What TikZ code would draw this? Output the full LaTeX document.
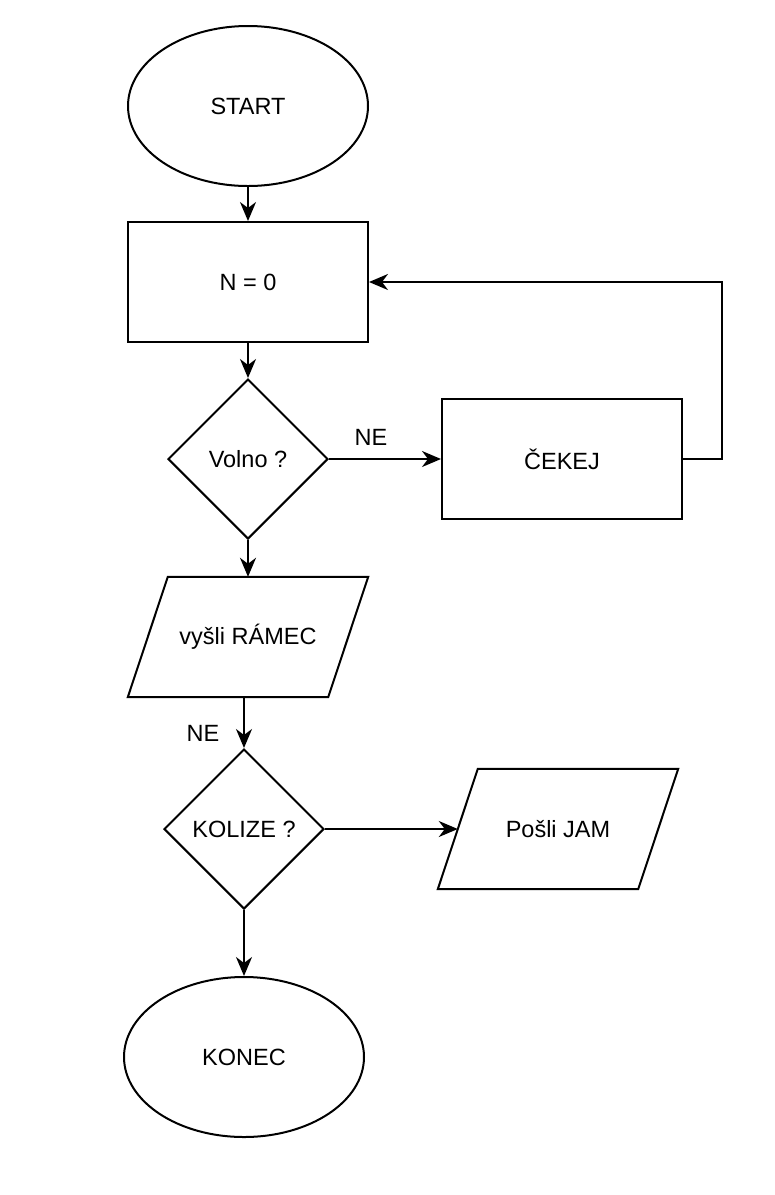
\documentclass[tikz,border=0pt]{standalone}
\usepackage{fontspec}
\setmainfont{Liberation Sans}
\usetikzlibrary{shapes.geometric,arrows.meta,calc}
\begin{document}
\begin{tikzpicture}[x=1pt,y=-1pt,
  every node/.style={font=\fontsize{23.5}{27}\selectfont},
  base/.style={draw=black,line width=2pt,inner sep=0pt},
  term/.style={base,ellipse,minimum width=240pt,minimum height=160pt},
  proc/.style={base,rectangle,minimum width=240pt,minimum height=120pt},
  dec/.style={base,diamond,minimum width=160pt,minimum height=160pt},
  iobox/.style={rectangle,inner sep=0pt,minimum width=240pt,minimum height=120pt},
  para/.style={draw=black,line width=2pt,line join=miter},
  conn/.style={draw=black,line width=2pt,-{Stealth[length=19pt,width=16pt,inset=6pt]}},
  lbl/.style={inner sep=0pt}
]
\useasboundingbox (0,0) rectangle (775,1195);
\node[term] (start) at (248,106) {START};
\node[proc] (n0) at (248,282) {N = 0};
\node[dec] (volno) at (248,459) {Volno ?};
\node[proc] (cekej) at (562,459) {ČEKEJ};
\node[iobox] (ramec) at (248,637) {vyšli RÁMEC};
\node[dec] (kolize) at (244,829) {KOLIZE ?};
\node[iobox] (jam) at (558,829) {Pošli JAM};
\node[term] (konec) at (244,1057) {KONEC};
% parallelograms
\draw[para] ([xshift=40pt]ramec.north west) -- (ramec.north east) -- ([xshift=-40pt]ramec.south east) -- (ramec.south west) -- cycle;
\draw[para] ([xshift=40pt]jam.north west) -- (jam.north east) -- ([xshift=-40pt]jam.south east) -- (jam.south west) -- cycle;
\coordinate (jamin) at ([xshift=20pt]jam.west);
\coordinate (loopr) at (722,459);
% connectors
\draw[conn] (start) -- (n0);
\draw[conn] (n0) -- (volno);
\draw[conn] (volno.east) -- (cekej.west);
\draw[conn] (cekej.east) -- (loopr) |- (n0.east);
\draw[conn] (volno.south) -- (ramec.north);
\draw[conn] (ramec.south -| kolize.north) -- (kolize.north);
\draw[conn] (kolize.east) -- (jamin);
\draw[conn] (kolize.south) -- (konec.north);
% labels
\node[lbl] (ne1) at (371,437) {NE};
\node[lbl] (ne2) at (203,733) {NE};
\end{tikzpicture}
\end{document}
